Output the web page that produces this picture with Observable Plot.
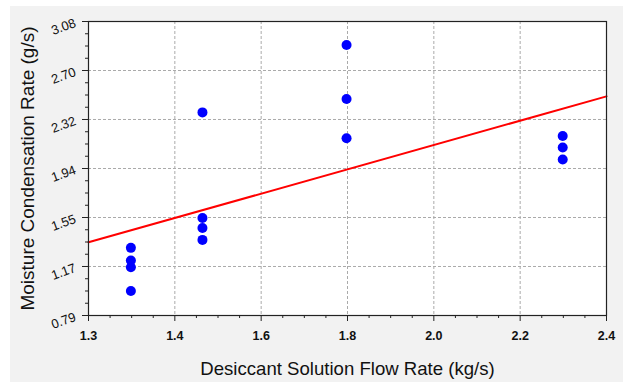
<!DOCTYPE html>
<html>
<head>
<meta charset="utf-8">
<script src="https://cdn.jsdelivr.net/npm/d3@7"></script>
<script src="https://cdn.jsdelivr.net/npm/@observablehq/plot@0.6"></script>
<style>
  html, body { margin: 0; padding: 0; background: #ffffff; }
  #chart { position: absolute; left: 10px; top: 6px; }
</style>
</head>
<body>
<div id="chart"></div>
<script>
// Measured points
const flowRate = [1.39, 1.39, 1.39, 1.39, 1.542, 1.542, 1.542, 1.542, 1.848, 1.848, 1.848, 2.307, 2.307, 2.307];
const condRate = [1.317, 1.218, 1.166, 0.981, 2.372, 1.550, 1.472, 1.379, 2.897, 2.476, 2.170, 2.188, 2.099, 2.005];

// Fitted line endpoints
const fitFlow = [1.3, 2.4];
const fitRate = [1.36, 2.497];

// Axis ticks (six equal divisions, labels as printed)
const xTickValues = [1.3, 1.48333, 1.66667, 1.85, 2.03333, 2.21667, 2.4];
const xTickLabels = ["1.3", "1.4", "1.6", "1.8", "2.0", "2.2", "2.4"];
const yTickValues = [0.79, 1.17167, 1.55333, 1.935, 2.31667, 2.69833, 3.08];
const yTickLabels = ["0.79", "1.17", "1.55", "1.94", "2.32", "2.70", "3.08"];

const xTitle = "Desiccant Solution Flow Rate (kg/s)";
const yTitle = "Moisture Condensation Rate (g/s)";

const points = flowRate.map((f, i) => ({f, r: condRate[i]}));
const fit = fitFlow.map((f, i) => ({f, r: fitRate[i]}));

function minorTicks(major) {
  const out = [];
  for (let i = 0; i < major.length - 1; i++) {
    const a = major[i], b = major[i + 1];
    for (let k = 1; k < 4; k++) out.push(a + (b - a) * k / 4);
  }
  return out;
}
const xMinor = minorTicks(xTickValues);
const yMinor = minorTicks(yTickValues);
const xTicks = xTickValues.map((v, i) => ({v, label: xTickLabels[i]}));
const yTicks = yTickValues.map((v, i) => ({v, label: yTickLabels[i]}));

const chart = Plot.plot({
  width: 613,
  height: 376,
  marginLeft: 78,
  marginRight: 17,
  marginTop: 15,
  marginBottom: 67,
  style: {background: "#f2f2f2", fontFamily: "'Liberation Sans', Arial, sans-serif", color: "#111"},
  x: {domain: [1.3, 2.4], label: null},
  y: {domain: [0.79, 3.08], label: null},
  marks: [
    Plot.frame({fill: "white", stroke: null}),
    Plot.gridX(xTickValues.slice(1, -1), {stroke: "#aaa", strokeOpacity: 1, strokeDasharray: "3,2"}),
    Plot.gridY(yTickValues.slice(1, -1), {stroke: "#aaa", strokeOpacity: 1, strokeDasharray: "3,2"}),
    Plot.line(fit, {x: "f", y: "r", stroke: "#ff0000", strokeWidth: 2}),
    Plot.dot(points, {x: "f", y: "r", r: 5, fill: "#0000ff", stroke: null}),
    Plot.frame({stroke: "#222", strokeWidth: 1.2}),
    Plot.axisX(xTickValues, {tickSize: 6, tickFormat: () => "", label: null, stroke: "#222"}),
    Plot.axisX(xMinor, {tickSize: 3, tickFormat: () => "", label: null, stroke: "#222"}),
    Plot.axisY(yTickValues, {tickSize: 6, tickFormat: () => "", label: null, stroke: "#222"}),
    Plot.axisY(yMinor, {tickSize: 3, tickFormat: () => "", label: null, stroke: "#222"}),
    Plot.text(xTicks, {x: "v", text: "label", frameAnchor: "bottom", dy: 20, lineAnchor: "middle", fontSize: 12.5, fontWeight: "bold", fill: "#111"}),
    Plot.text(yTicks, {y: "v", text: "label", frameAnchor: "left", dx: -13, dy: 1, textAnchor: "end", lineAnchor: "middle", rotate: -20, fontSize: 13, fill: "#111"}),
    Plot.text([xTitle], {text: d => d, frameAnchor: "bottom", dy: 54, lineAnchor: "middle", fontSize: 18.6, fill: "#111"}),
    Plot.text([yTitle], {text: d => d, frameAnchor: "left", dx: -61, rotate: -90, textAnchor: "middle", lineAnchor: "middle", fontSize: 19, fill: "#111"})
  ]
});
document.getElementById("chart").appendChild(chart);
</script>
</body>
</html>
